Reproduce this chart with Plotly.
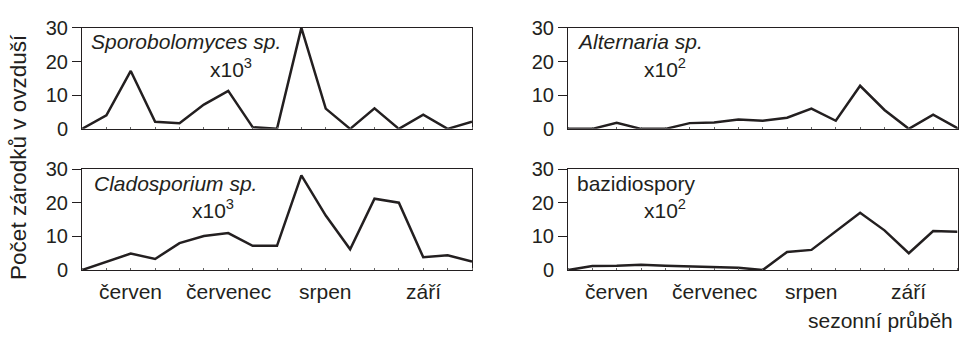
import plotly.graph_objects as go

# ---- data ----
periods = list(range(17))
month_labels = ["červen", "červenec", "srpen", "září"]
month_pos = [2, 6, 10, 14]
month_ticks = [4, 8, 12, 16]
y_labels = [0, 10, 20, 30]
y_tick_marks = [10, 20, 30]

sporobolomyces = [0, 4.0, 17.2, 2.1, 1.7, 7.2, 11.3, 0.5, 0, 30, 6.0, 0, 6.1, 0, 4.2, 0, 2.1]
alternaria = [0, 0, 1.8, 0, 0, 1.7, 1.9, 2.8, 2.4, 3.3, 6.0, 2.4, 12.8, 5.6, 0, 4.2, 0.2]
cladosporium = [0, 2.4, 4.9, 3.3, 8.0, 10.1, 11.0, 7.2, 7.2, 28.1, 16.2, 6.2, 21.2, 20.0, 3.8, 4.4, 2.5]
bazidiospory = [0, 1.2, 1.3, 1.6, 1.3, 1.1, 1.1, 0.7, 0, 5.4, 6.0, 11.5, 17.0, 11.8, 5.0, 11.6, 11.4]

panel_names = ["Sporobolomyces sp.", "Alternaria sp.", "Cladosporium sp.", "bazidiospory"]
panel_italic = [True, True, True, False]
panel_scale = ["x10<sup>3</sup>", "x10<sup>2</sup>", "x10<sup>3</sup>", "x10<sup>2</sup>"]
series = [sporobolomyces, alternaria, cladosporium, bazidiospory]

y_title = "Počet zárodků v ovzduší"
x_title = "sezonní průběh"

# ---- layout ----
W, H = 959, 340
INK = "#231f20"
FONT = "Liberation Sans, Arial, sans-serif"
FS = 20
FS_TXT = 21

x_domains = [[82 / W, 472 / W], [568 / W, 957.5 / W]]
y_domains = [[(H - 126) / H, (H - 18) / H], [(H - 277) / H, (H - 169) / H]]

fig = go.Figure()
layout = dict(
    width=W, height=H,
    margin=dict(l=0, r=0, t=0, b=0),
    paper_bgcolor="white", plot_bgcolor="white",
    showlegend=False,
    font=dict(family=FONT, size=FS, color=INK),
    annotations=[],
)

for i, (vals, name, ital, scale) in enumerate(zip(series, panel_names, panel_italic, panel_scale)):
    row, col = divmod(i, 2)
    n = i + 1
    xa = "x" if n == 1 else f"x{n}"
    ya = "y" if n == 1 else f"y{n}"
    ov = f"y{n + 4}"
    fig.add_trace(go.Scatter(x=periods, y=vals, mode="lines",
                             line=dict(color=INK, width=2.5),
                             xaxis=xa, yaxis=ya, hoverinfo="skip"))
    # helper (empty) trace so the tick-only overlay axis is drawn
    fig.add_trace(go.Scatter(x=[], y=[], xaxis=xa, yaxis=ov, hoverinfo="skip"))
    layout[f"xaxis{'' if n == 1 else n}"] = dict(
        domain=x_domains[col], anchor=ya, range=[0, 16],
        showgrid=False, zeroline=False, showline=True, linecolor=INK, linewidth=1,
        mirror=True, tickvals=month_ticks, ticktext=["" for _ in month_ticks],
        ticks="outside", ticklen=8, tickcolor=INK, tickwidth=1,
        minor=dict(tickvals=periods, ticks="inside", ticklen=2, tickcolor="#666", tickwidth=1),
    )
    layout[f"yaxis{'' if n == 1 else n}"] = dict(
        domain=y_domains[row], anchor=xa, range=[0, 30],
        showgrid=False, zeroline=False, showline=True, linecolor=INK, linewidth=1,
        mirror=True, tickvals=y_labels, ticks="outside", ticklen=9,
        tickcolor="rgba(0,0,0,0)", tickfont=dict(size=FS, color=INK),
    )
    layout[f"yaxis{n + 4}"] = dict(
        overlaying=ya, anchor=xa, side="left", range=[0, 30],
        showgrid=False, zeroline=False, showline=False,
        tickvals=y_tick_marks, ticks="outside", ticklen=9, tickcolor=INK, tickwidth=1,
        showticklabels=False,
    )
    label = f"<i>{name}</i>" if ital else name
    tx = 0.018 if col == 1 else (0.018 if row == 0 else 0.026)
    sx = 0.19 if col == 1 else (0.323 if row == 0 else 0.277)
    layout["annotations"].append(dict(
        text=label, xref=f"{xa} domain", yref=f"{ya} domain", x=tx, y=0.86,
        xanchor="left", yanchor="middle", showarrow=False, font=dict(size=FS_TXT, color=INK)))
    layout["annotations"].append(dict(
        text=scale, xref=f"{xa} domain", yref=f"{ya} domain", x=sx, y=0.6,
        xanchor="left", yanchor="middle", showarrow=False, font=dict(size=FS_TXT, color=INK)))
    if row == 1:
        for m, p in zip(month_labels, month_pos):
            layout["annotations"].append(dict(
                text=m, xref=xa, yref="paper", x=p, y=(H - 300) / H,
                xanchor="center", yanchor="middle", showarrow=False,
                font=dict(size=FS_TXT, color=INK)))

layout["annotations"].append(dict(
    text=y_title, xref="paper", yref="paper", x=19 / W, y=(H - 156) / H,
    textangle=-90, xanchor="center", yanchor="middle", showarrow=False,
    font=dict(size=22.5, color=INK)))
layout["annotations"].append(dict(
    text=x_title, xref="paper", yref="paper", x=955 / W, y=(H - 331) / H,
    xanchor="right", yanchor="middle", showarrow=False,
    font=dict(size=FS_TXT, color=INK)))

fig.update_layout(**layout)
fig.write_html("out.html", config={"displayModeBar": False},
               post_script="document.body.style.margin='0';document.body.style.overflow='hidden';")
